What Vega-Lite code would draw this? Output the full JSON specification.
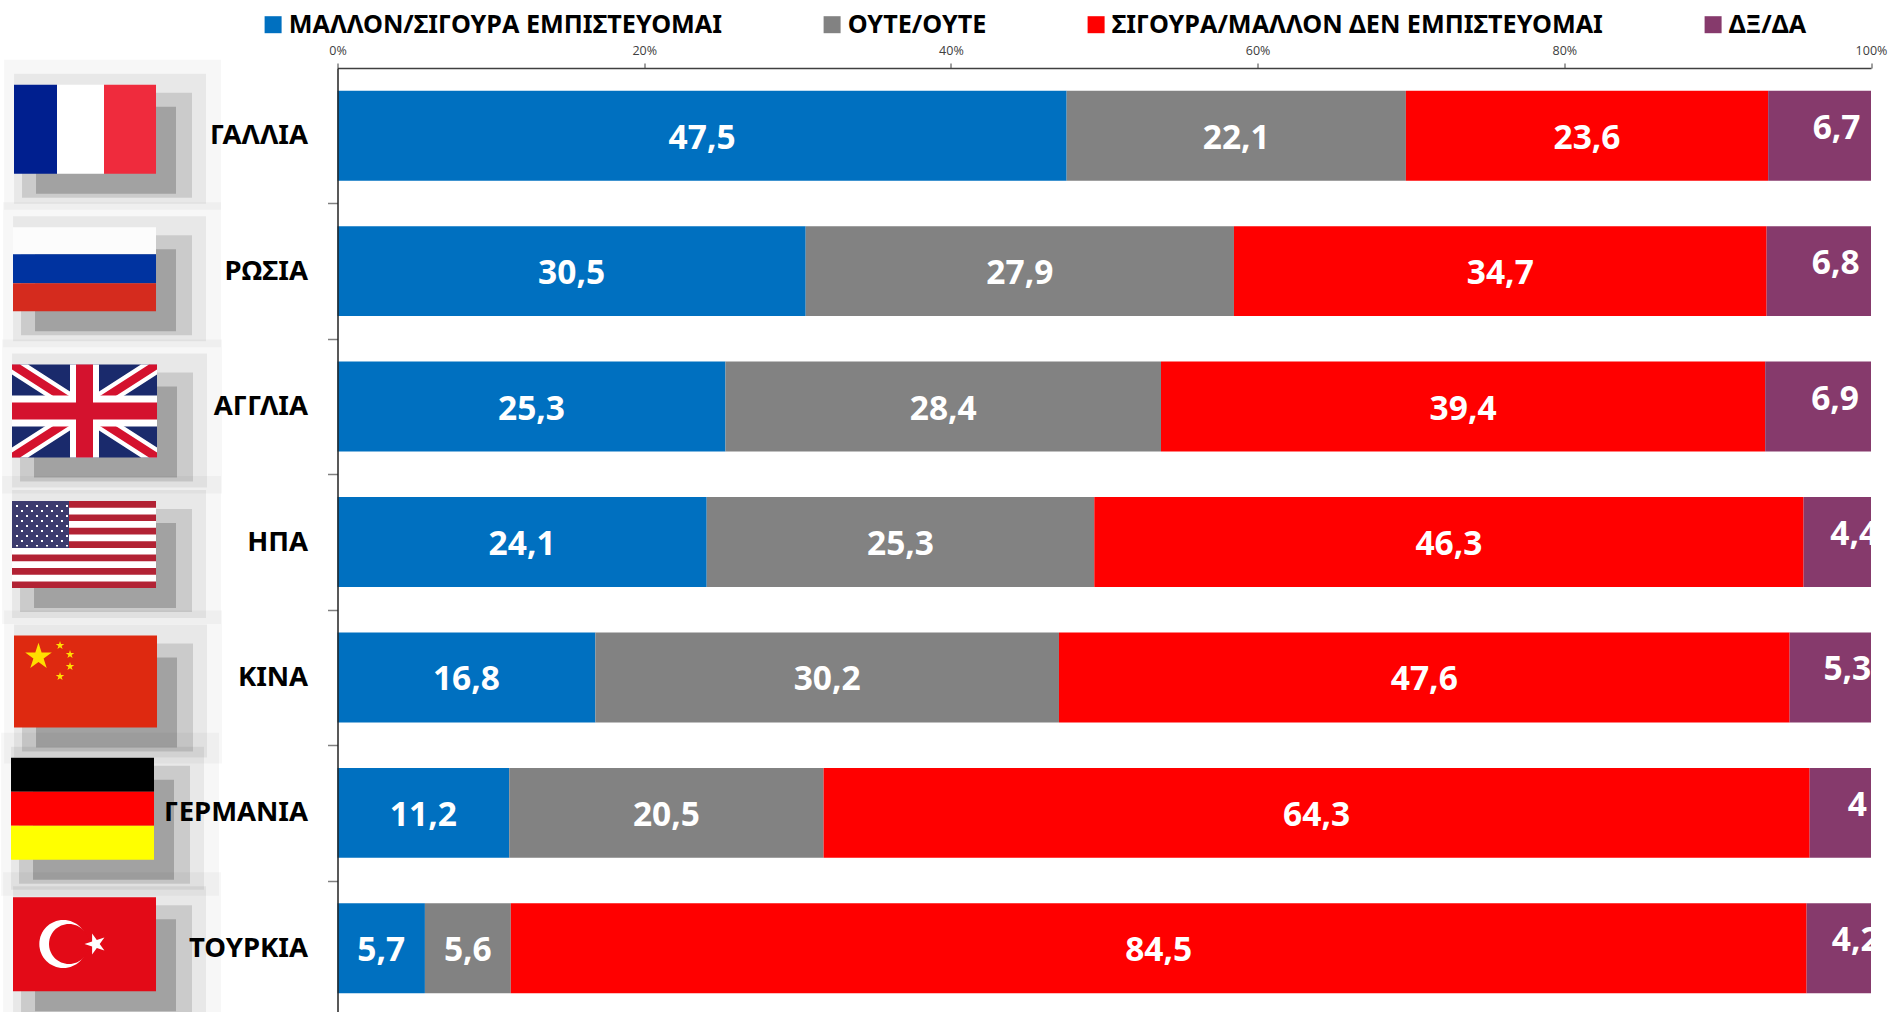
{"$schema":"https://vega.github.io/schema/vega-lite/v6.json","autosize":{"type":"none"},"padding":{"left":337.5,"top":68,"right":19,"bottom":0},"width":1533.5,"height":944,"background":"white","view":{"stroke":null},
"datasets":{
"rows":[
{"country":"ΓΑΛΛΙΑ","series":"ΜΑΛΛΟΝ/ΣΙΓΟΥΡΑ ΕΜΠΙΣΤΕΥΟΜΑΙ","rank":1,"value":47.5,"label":"47,5"},{"country":"ΓΑΛΛΙΑ","series":"ΟΥΤΕ/ΟΥΤΕ","rank":2,"value":22.1,"label":"22,1"},{"country":"ΓΑΛΛΙΑ","series":"ΣΙΓΟΥΡΑ/ΜΑΛΛΟΝ ΔΕΝ ΕΜΠΙΣΤΕΥΟΜΑΙ","rank":3,"value":23.6,"label":"23,6"},{"country":"ΓΑΛΛΙΑ","series":"ΔΞ/ΔΑ","rank":4,"value":6.7,"label":"6,7"},
{"country":"ΡΩΣΙΑ","series":"ΜΑΛΛΟΝ/ΣΙΓΟΥΡΑ ΕΜΠΙΣΤΕΥΟΜΑΙ","rank":1,"value":30.5,"label":"30,5"},{"country":"ΡΩΣΙΑ","series":"ΟΥΤΕ/ΟΥΤΕ","rank":2,"value":27.9,"label":"27,9"},{"country":"ΡΩΣΙΑ","series":"ΣΙΓΟΥΡΑ/ΜΑΛΛΟΝ ΔΕΝ ΕΜΠΙΣΤΕΥΟΜΑΙ","rank":3,"value":34.7,"label":"34,7"},{"country":"ΡΩΣΙΑ","series":"ΔΞ/ΔΑ","rank":4,"value":6.8,"label":"6,8"},
{"country":"ΑΓΓΛΙΑ","series":"ΜΑΛΛΟΝ/ΣΙΓΟΥΡΑ ΕΜΠΙΣΤΕΥΟΜΑΙ","rank":1,"value":25.3,"label":"25,3"},{"country":"ΑΓΓΛΙΑ","series":"ΟΥΤΕ/ΟΥΤΕ","rank":2,"value":28.4,"label":"28,4"},{"country":"ΑΓΓΛΙΑ","series":"ΣΙΓΟΥΡΑ/ΜΑΛΛΟΝ ΔΕΝ ΕΜΠΙΣΤΕΥΟΜΑΙ","rank":3,"value":39.4,"label":"39,4"},{"country":"ΑΓΓΛΙΑ","series":"ΔΞ/ΔΑ","rank":4,"value":6.9,"label":"6,9"},
{"country":"ΗΠΑ","series":"ΜΑΛΛΟΝ/ΣΙΓΟΥΡΑ ΕΜΠΙΣΤΕΥΟΜΑΙ","rank":1,"value":24.1,"label":"24,1"},{"country":"ΗΠΑ","series":"ΟΥΤΕ/ΟΥΤΕ","rank":2,"value":25.3,"label":"25,3"},{"country":"ΗΠΑ","series":"ΣΙΓΟΥΡΑ/ΜΑΛΛΟΝ ΔΕΝ ΕΜΠΙΣΤΕΥΟΜΑΙ","rank":3,"value":46.3,"label":"46,3"},{"country":"ΗΠΑ","series":"ΔΞ/ΔΑ","rank":4,"value":4.4,"label":"4,4"},
{"country":"ΚΙΝΑ","series":"ΜΑΛΛΟΝ/ΣΙΓΟΥΡΑ ΕΜΠΙΣΤΕΥΟΜΑΙ","rank":1,"value":16.8,"label":"16,8"},{"country":"ΚΙΝΑ","series":"ΟΥΤΕ/ΟΥΤΕ","rank":2,"value":30.2,"label":"30,2"},{"country":"ΚΙΝΑ","series":"ΣΙΓΟΥΡΑ/ΜΑΛΛΟΝ ΔΕΝ ΕΜΠΙΣΤΕΥΟΜΑΙ","rank":3,"value":47.6,"label":"47,6"},{"country":"ΚΙΝΑ","series":"ΔΞ/ΔΑ","rank":4,"value":5.3,"label":"5,3"},
{"country":"ΓΕΡΜΑΝΙΑ","series":"ΜΑΛΛΟΝ/ΣΙΓΟΥΡΑ ΕΜΠΙΣΤΕΥΟΜΑΙ","rank":1,"value":11.2,"label":"11,2"},{"country":"ΓΕΡΜΑΝΙΑ","series":"ΟΥΤΕ/ΟΥΤΕ","rank":2,"value":20.5,"label":"20,5"},{"country":"ΓΕΡΜΑΝΙΑ","series":"ΣΙΓΟΥΡΑ/ΜΑΛΛΟΝ ΔΕΝ ΕΜΠΙΣΤΕΥΟΜΑΙ","rank":3,"value":64.3,"label":"64,3"},{"country":"ΓΕΡΜΑΝΙΑ","series":"ΔΞ/ΔΑ","rank":4,"value":4,"label":"4"},
{"country":"ΤΟΥΡΚΙΑ","series":"ΜΑΛΛΟΝ/ΣΙΓΟΥΡΑ ΕΜΠΙΣΤΕΥΟΜΑΙ","rank":1,"value":5.7,"label":"5,7"},{"country":"ΤΟΥΡΚΙΑ","series":"ΟΥΤΕ/ΟΥΤΕ","rank":2,"value":5.6,"label":"5,6"},{"country":"ΤΟΥΡΚΙΑ","series":"ΣΙΓΟΥΡΑ/ΜΑΛΛΟΝ ΔΕΝ ΕΜΠΙΣΤΕΥΟΜΑΙ","rank":3,"value":84.5,"label":"84,5"},{"country":"ΤΟΥΡΚΙΑ","series":"ΔΞ/ΔΑ","rank":4,"value":4.2,"label":"4,2"}
],
"flags":[
{"country":"ΓΑΛΛΙΑ","part":"fr-s1"},{"country":"ΓΑΛΛΙΑ","part":"fr-s2"},{"country":"ΓΑΛΛΙΑ","part":"fr-s3"},{"country":"ΓΑΛΛΙΑ","part":"fr-s4"},
{"country":"ΡΩΣΙΑ","part":"ru-s1"},{"country":"ΡΩΣΙΑ","part":"ru-s2"},{"country":"ΡΩΣΙΑ","part":"ru-s3"},{"country":"ΡΩΣΙΑ","part":"ru-s4"},
{"country":"ΑΓΓΛΙΑ","part":"uk-s1"},{"country":"ΑΓΓΛΙΑ","part":"uk-s2"},{"country":"ΑΓΓΛΙΑ","part":"uk-s3"},{"country":"ΑΓΓΛΙΑ","part":"uk-s4"},
{"country":"ΗΠΑ","part":"us-s1"},{"country":"ΗΠΑ","part":"us-s2"},{"country":"ΗΠΑ","part":"us-s3"},{"country":"ΗΠΑ","part":"us-s4"},
{"country":"ΚΙΝΑ","part":"cn-s1"},{"country":"ΚΙΝΑ","part":"cn-s2"},{"country":"ΚΙΝΑ","part":"cn-s3"},{"country":"ΚΙΝΑ","part":"cn-s4"},
{"country":"ΓΕΡΜΑΝΙΑ","part":"de-s1"},{"country":"ΓΕΡΜΑΝΙΑ","part":"de-s2"},{"country":"ΓΕΡΜΑΝΙΑ","part":"de-s3"},{"country":"ΓΕΡΜΑΝΙΑ","part":"de-s4"},
{"country":"ΤΟΥΡΚΙΑ","part":"tr-s1"},{"country":"ΤΟΥΡΚΙΑ","part":"tr-s2"},{"country":"ΤΟΥΡΚΙΑ","part":"tr-s3"},{"country":"ΤΟΥΡΚΙΑ","part":"tr-s4"},
{"country":"ΓΑΛΛΙΑ","part":"fr-a"},{"country":"ΓΑΛΛΙΑ","part":"fr-b"},{"country":"ΓΑΛΛΙΑ","part":"fr-c"},
{"country":"ΡΩΣΙΑ","part":"ru-a"},{"country":"ΡΩΣΙΑ","part":"ru-b"},{"country":"ΡΩΣΙΑ","part":"ru-c"},
{"country":"ΑΓΓΛΙΑ","part":"uk-a"},{"country":"ΑΓΓΛΙΑ","part":"uk-b"},{"country":"ΑΓΓΛΙΑ","part":"uk-c"},{"country":"ΑΓΓΛΙΑ","part":"uk-d"},{"country":"ΑΓΓΛΙΑ","part":"uk-e"},
{"country":"ΗΠΑ","part":"us-a"},{"country":"ΗΠΑ","part":"us-b"},{"country":"ΗΠΑ","part":"us-c"},{"country":"ΗΠΑ","part":"us-d"},
{"country":"ΚΙΝΑ","part":"cn-a"},{"country":"ΚΙΝΑ","part":"cn-b"},{"country":"ΚΙΝΑ","part":"cn-c"},
{"country":"ΓΕΡΜΑΝΙΑ","part":"de-a"},{"country":"ΓΕΡΜΑΝΙΑ","part":"de-b"},{"country":"ΓΕΡΜΑΝΙΑ","part":"de-c"},
{"country":"ΤΟΥΡΚΙΑ","part":"tr-a"},{"country":"ΤΟΥΡΚΙΑ","part":"tr-b"},{"country":"ΤΟΥΡΚΙΑ","part":"tr-c"},{"country":"ΤΟΥΡΚΙΑ","part":"tr-d"}
]},
"resolve":{"scale":{"color":"independent"}},
"layer":[
{"data":{"name":"flags"},"mark":{"type":"point","filled":true,"size":4,"opacity":1,"strokeWidth":0},
"encoding":{
"x":{"datum":-0.164,"type":"quantitative","title":null,"scale":{"domain":[0,1]},
"axis":{"orient":"top","values":[0,0.2,0.4,0.6,0.8,1],"format":".0%","grid":false,"tickSize":5,"tickColor":"#404040","domainColor":"#404040","domainWidth":1.5,"labelFont":"Open Sans","labelFontSize":12.5,"labelColor":"#404040","labelPadding":6,"labelFlush":false,"labelOverlap":false,"labelBound":false,"title":null}},
"y":{"field":"country","type":"nominal","title":null,"scale":{"domain":["ΓΑΛΛΙΑ","ΡΩΣΙΑ","ΑΓΓΛΙΑ","ΗΠΑ","ΚΙΝΑ","ΓΕΡΜΑΝΙΑ","ΤΟΥΡΚΙΑ"],"range":[0,948],"paddingInner":0.336,"paddingOuter":0.168},
"axis":{"zindex":1,"bandPosition":1,"tickOffset":22.7,"labelOffset":-22.7,"tickSize":10,"tickColor":"#808080","tickWidth":1.5,"domainColor":"#222222","domainWidth":1.5,"labelFont":"Noto Sans","labelFontWeight":"bold","labelFontSize":27.5,"labelColor":"#000000","labelPadding":20,"title":null}},
"color":{"field":"part","type":"nominal","legend":null,"scale":{
"domain":["fr-s1","fr-s2","fr-s3","fr-s4","ru-s1","ru-s2","ru-s3","ru-s4","uk-s1","uk-s2","uk-s3","uk-s4","us-s1","us-s2","us-s3","us-s4","cn-s1","cn-s2","cn-s3","cn-s4","de-s1","de-s2","de-s3","de-s4","tr-s1","tr-s2","tr-s3","tr-s4","fr-a","fr-b","fr-c","ru-a","ru-b","ru-c","uk-a","uk-b","uk-c","uk-d","uk-e","us-a","us-b","us-c","us-d","cn-a","cn-b","cn-c","de-a","de-b","de-c","tr-a","tr-b","tr-c","tr-d"],
"range":["rgba(0,0,0,0.03)","rgba(0,0,0,0.06)","rgba(0,0,0,0.12)","rgba(0,0,0,0.2)","rgba(0,0,0,0.03)","rgba(0,0,0,0.06)","rgba(0,0,0,0.12)","rgba(0,0,0,0.2)","rgba(0,0,0,0.03)","rgba(0,0,0,0.06)","rgba(0,0,0,0.12)","rgba(0,0,0,0.2)","rgba(0,0,0,0.03)","rgba(0,0,0,0.06)","rgba(0,0,0,0.12)","rgba(0,0,0,0.2)","rgba(0,0,0,0.03)","rgba(0,0,0,0.06)","rgba(0,0,0,0.12)","rgba(0,0,0,0.2)","rgba(0,0,0,0.03)","rgba(0,0,0,0.06)","rgba(0,0,0,0.12)","rgba(0,0,0,0.2)","rgba(0,0,0,0.03)","rgba(0,0,0,0.06)","rgba(0,0,0,0.12)","rgba(0,0,0,0.2)",
"#001F8F","#FFFFFF","#EF2B3D","#FCFCFC","#0033A0","#D52B1E","#1A2A6C","#FFFFFF","#D4122E","#FFFFFF","#D4122E","#B22234","#FFFFFF","#3C3B6E","#FFFFFF","#DE2910","#FFDE00","#FFDE00","#000000","#FF0000","#FFFF00","#E30A17","#FFFFFF","#E30A17","#FFFFFF"]}},
"shape":{"field":"part","type":"nominal","legend":null,"scale":{
"domain":["fr-s1","fr-s2","fr-s3","fr-s4","ru-s1","ru-s2","ru-s3","ru-s4","uk-s1","uk-s2","uk-s3","uk-s4","us-s1","us-s2","us-s3","us-s4","cn-s1","cn-s2","cn-s3","cn-s4","de-s1","de-s2","de-s3","de-s4","tr-s1","tr-s2","tr-s3","tr-s4","fr-a","fr-b","fr-c","ru-a","ru-b","ru-c","uk-a","uk-b","uk-c","uk-d","uk-e","us-a","us-b","us-c","us-d","cn-a","cn-b","cn-c","de-a","de-b","de-c","tr-a","tr-b","tr-c","tr-d"],
"range":[
"M-82,-76H135V74H-82Z","M-72,-62H120V68H-72Z","M-64,-43H106V62H-64Z","M-50,-29H90V58H-50Z",
"M-83,-69H135V76H-83Z","M-73,-55H120V70H-73Z","M-65,-36H106V64H-65Z","M-51,-22H90V60H-51Z",
"M-84,-67H136V87H-84Z","M-74,-53H121V81H-74Z","M-66,-34H107V75H-66Z","M-52,-20H91V71H-52Z",
"M-84,-66H135V82H-84Z","M-74,-52H120V76H-74Z","M-66,-33H106V70H-66Z","M-52,-19H90V66H-52Z",
"M-82,-67H136V86H-82Z","M-72,-53H121V80H-72Z","M-64,-34H107V74H-64Z","M-50,-20H91V70H-50Z",
"M-85,-80H133V83H-85Z","M-75,-66H118V77H-75Z","M-67,-47H104V71H-67Z","M-53,-33H88V67H-53Z",
"M-83,-76H135V79H-83Z","M-73,-62H120V73H-73Z","M-65,-43H106V67H-65Z","M-51,-29H90V63H-51Z",
"M-72,-51H-29V38H-72Z","M-29,-51H18V38H-29Z","M18,-51H70V38H18Z",
"M-73,-44H70V-17H-73Z","M-73,-17H70V12H-73Z","M-73,12H70V40H-73Z",
"M-74,-42H71V51H-74Z",
"M-74,-42L-58,-42L71,41V51H55L-74,-32ZM71,-42V-32L-58,51H-74V41L55,-42Z",
"M-74,-42L-66,-42L71,46V51H63L-74,-37ZM71,-42V-37L-66,51H-74V46L63,-42Z",
"M-16,-42H13V-11H71V20H13V51H-16V20H-74V-11H-16Z",
"M-10,-42H7V-4H71V13H7V51H-10V13H-74V-4H-10Z",
"M-74,-41H70V46H-74Z",
"M-74,-34.3H70V-27.6H-74ZM-74,-20.9H70V-14.2H-74ZM-74,-7.5H70V-0.8H-74ZM-74,5.9H70V12.6H-74ZM-74,19.3H70V26H-74ZM-74,32.7H70V39.4H-74Z",
"M-74,-41H-17V6H-74Z",
"M-70,-37h2v2h-2zM-60,-37h2v2h-2zM-50,-37h2v2h-2zM-40,-37h2v2h-2zM-30,-37h2v2h-2zM-20,-37h2v2h-2zM-65,-32h2v2h-2zM-55,-32h2v2h-2zM-45,-32h2v2h-2zM-35,-32h2v2h-2zM-25,-32h2v2h-2zM-70,-27h2v2h-2zM-60,-27h2v2h-2zM-50,-27h2v2h-2zM-40,-27h2v2h-2zM-30,-27h2v2h-2zM-20,-27h2v2h-2zM-65,-22h2v2h-2zM-55,-22h2v2h-2zM-45,-22h2v2h-2zM-35,-22h2v2h-2zM-25,-22h2v2h-2zM-70,-17h2v2h-2zM-60,-17h2v2h-2zM-50,-17h2v2h-2zM-40,-17h2v2h-2zM-30,-17h2v2h-2zM-20,-17h2v2h-2zM-65,-12h2v2h-2zM-55,-12h2v2h-2zM-45,-12h2v2h-2zM-35,-12h2v2h-2zM-25,-12h2v2h-2zM-70,-7h2v2h-2zM-60,-7h2v2h-2zM-50,-7h2v2h-2zM-40,-7h2v2h-2zM-30,-7h2v2h-2zM-20,-7h2v2h-2zM-65,-2h2v2h-2zM-55,-2h2v2h-2zM-45,-2h2v2h-2zM-35,-2h2v2h-2zM-25,-2h2v2h-2zM-70,3h2v1.5h-2zM-60,3h2v1.5h-2zM-50,3h2v1.5h-2zM-40,3h2v1.5h-2zM-30,3h2v1.5h-2zM-20,3h2v1.5h-2z",
"M-72,-42H71V50H-72Z",
"M-47.5,-34.7L-44.4,-25L-34.2,-25L-42.4,-19L-39.3,-9.4L-47.5,-15.4L-55.7,-9.4L-52.6,-19L-60.8,-25L-50.7,-25Z",
"M-26,-36.5L-25,-33.4L-21.7,-33.4L-24.4,-31.5L-23.4,-28.4L-26,-30.3L-28.6,-28.4L-27.6,-31.5L-30.3,-33.4L-27,-33.4ZM-16,-27.5L-15,-24.4L-11.7,-24.4L-14.4,-22.5L-13.4,-19.4L-16,-21.3L-18.6,-19.4L-17.6,-22.5L-20.3,-24.4L-17,-24.4ZM-16,-15.5L-15,-12.4L-11.7,-12.4L-14.4,-10.5L-13.4,-7.4L-16,-9.3L-18.6,-7.4L-17.6,-10.5L-20.3,-12.4L-17,-12.4ZM-26,-5.5L-25,-2.4L-21.7,-2.4L-24.4,-0.5L-23.4,2.6L-26,0.7L-28.6,2.6L-27.6,-0.5L-30.3,-2.4L-27,-2.4Z",
"M-75,-55H68V-21H-75Z","M-75,-21H68V13H-75Z","M-75,13H68V47H-75Z",
"M-73,-51H70V43H-73Z",
"M-46.7,-4.3A24,24 0 1,0 1.3,-4.3A24,24 0 1,0 -46.7,-4.3Z",
"M-37,-4.3A20,20 0 1,0 3,-4.3A20,20 0 1,0 -37,-4.3Z",
"M-1.5,-4.3L6.1,-6.8L6.1,-14.8L10.8,-8.3L18.4,-10.8L13.7,-4.3L18.4,2.2L10.8,-0.3L6.1,6.2L6.1,-1.8Z"
]}}
}},
{"data":{"name":"rows"},
"transform":[{"stack":"value","groupby":["country"],"sort":[{"field":"rank","order":"ascending"}],"offset":"normalize","as":["v0","v1"]},{"calculate":"(datum.v0+datum.v1)/2","as":"mid"}],
"layer":[
{"mark":{"type":"bar"},
"encoding":{
"y":{"field":"country","type":"nominal"},
"x":{"field":"v0","type":"quantitative"},
"x2":{"field":"v1"},
"color":{"field":"series","type":"nominal","scale":{"domain":["ΜΑΛΛΟΝ/ΣΙΓΟΥΡΑ ΕΜΠΙΣΤΕΥΟΜΑΙ","ΟΥΤΕ/ΟΥΤΕ","ΣΙΓΟΥΡΑ/ΜΑΛΛΟΝ ΔΕΝ ΕΜΠΙΣΤΕΥΟΜΑΙ","ΔΞ/ΔΑ"],"range":["#0070C0","#828282","#FF0000","#863A6C"]},
"legend":{"title":null,"orient":"none","legendX":-77,"legendY":-56,"direction":"horizontal","columns":4,"columnPadding":97,"gridAlign":"each","symbolType":"square","symbolSize":289,"symbolStrokeWidth":0,"labelFont":"Noto Sans","labelFontWeight":"bold","labelFontSize":25.2,"labelColor":"#000000","labelOffset":3,"labelLimit":600}}
}},
{"transform":[{"filter":"datum.rank<4"}],"mark":{"type":"text","font":"Noto Sans","fontWeight":"bold","fontSize":33.5,"color":"#FFFFFF","dy":3},
"encoding":{"y":{"field":"country","type":"nominal"},"x":{"field":"mid","type":"quantitative"},"text":{"field":"label"}}},
{"transform":[{"filter":"datum.rank==4"}],"mark":{"type":"text","font":"Noto Sans","fontWeight":"bold","fontSize":33.5,"color":"#FFFFFF","dx":17,"dy":-7,"clip":true},
"encoding":{"y":{"field":"country","type":"nominal"},"x":{"field":"mid","type":"quantitative"},"text":{"field":"label"}}}
]}
]}
